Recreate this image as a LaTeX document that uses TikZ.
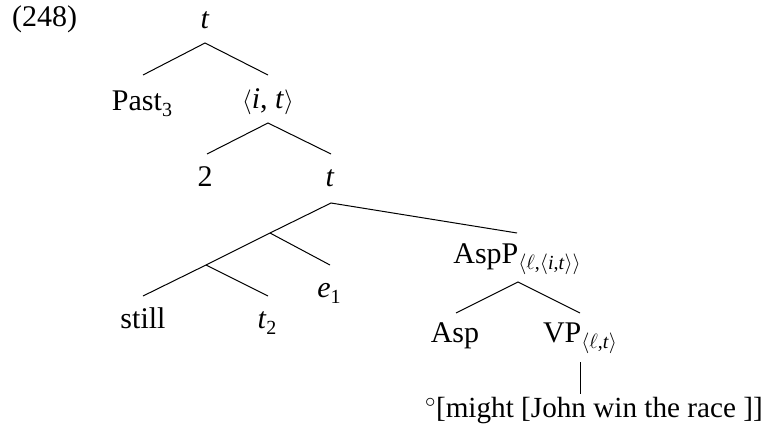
\documentclass[tikz,border=0pt]{standalone}
\usepackage{fontspec}
\setmainfont{Liberation Serif}
\begin{document}
\begin{tikzpicture}[x=1pt,y=-1pt,
  lab/.style={anchor=base,inner sep=0pt,font=\fontsize{30}{36}\selectfont},
  br/.style={line width=1pt}]
\useasboundingbox (0,0) rectangle (765,434);
\newcommand\LA{\ensuremath{\langle}}
\newcommand\RA{\ensuremath{\rangle}}
\newcommand\Sb[1]{\raisebox{-0.2em}{\fontsize{20}{22}\selectfont #1}}
\node[lab,anchor=base west] (ex) at (12,26) {(248)};
\node[lab] (t0) at (205,28) {\textit{t}};
\node[lab] (past) at (142,110) {Past\Sb{3}};
\node[lab] (it1) at (268,108) {\LA\textit{i}, \textit{t}\RA};
\node[lab] (two) at (205,186) {2};
\node[lab] (t1) at (330,186) {\textit{t}};
\node[lab] (still) at (143,328) {still};
\node[lab] (tt) at (267,328) {\textit{t}\Sb{2}};
\node[lab] (e1) at (329,297) {\textit{e}\Sb{1}};
\node[lab] (aspp) at (517,263) {AspP\Sb{\LA$\ell$,\LA\textit{i},\textit{t}\RA\RA}};
\node[lab] (asp) at (455,342) {Asp};
\node[lab] (vp) at (580,342) {VP\Sb{\LA$\ell$,\textit{t}\RA}};
\node[lab,anchor=base east,font=\fontsize{29.2}{35}\selectfont] (txt) at (763,417) {$^\circ$[might [John win the race ]]};
% branch points
\coordinate (a0) at (205,43);
\coordinate (l0) at (143,75);
\coordinate (r0) at (268,75);
\coordinate (a1) at (268,123);
\coordinate (l1) at (207,154);
\coordinate (r1) at (331,154);
\coordinate (a2) at (331,203);
\coordinate (m1) at (270,233);
\coordinate (m2) at (206,265);
\coordinate (sl) at (143,296);
\coordinate (tl) at (268,296);
\coordinate (el) at (330,265);
\coordinate (ar) at (517,233);
\coordinate (a3) at (518,282);
\coordinate (l3) at (456,313);
\coordinate (r3) at (580,313);
\coordinate (v1) at (580,362);
\coordinate (v2) at (580,394);
\draw[br] (l0) -- (a0) -- (r0);
\draw[br] (l1) -- (a1) -- (r1);
\draw[br] (sl) -- (m2) -- (m1) -- (a2) -- (ar);
\draw[br] (m2) -- (tl);
\draw[br] (m1) -- (el);
\draw[br] (l3) -- (a3) -- (r3);
\draw[br] (v1) -- (v2);
\end{tikzpicture}
\end{document}
